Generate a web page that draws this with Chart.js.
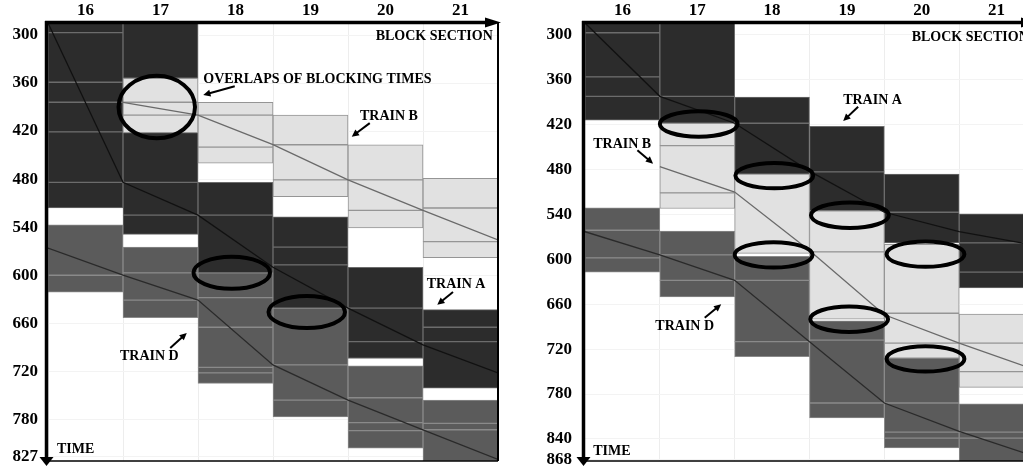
<!DOCTYPE html>
<html>
<head>
<meta charset="utf-8">
<script src="https://cdn.jsdelivr.net/npm/chart.js@4"></script>
<style>
  html, body { margin: 0; padding: 0; background: #fff; overflow: hidden; }
  #left { position: absolute; left: 0; top: 0; }
  #right { position: absolute; left: 510px; top: 0; }
</style>
</head>
<body>
<canvas id="left" width="510" height="467"></canvas>
<canvas id="right" width="540" height="467"></canvas>
<script>
const sections = [16, 17, 18, 19, 20, 21]
const leftTimeTicks = [300, 360, 420, 480, 540, 600, 660, 720, 780, 827]
const rightTimeTicks = [300, 360, 420, 480, 540, 600, 660, 720, 780, 840, 868]

// blocking time segments per train: [section, start, end]
const leftTrainA = [
  [16, 285, 297], [16, 297, 359], [16, 359, 384], [16, 384, 421], [16, 421, 484], [16, 484, 516],
  [17, 285, 354], [17, 422, 484], [17, 484, 525], [17, 525, 549],
  [18, 484, 525], [18, 525, 597],
  [19, 527, 565], [19, 565, 587], [19, 587, 641],
  [20, 590, 641], [20, 641, 683], [20, 683, 704],
  [21, 643, 665], [21, 665, 683], [21, 683, 741]
]
const leftTrainB = [
  [17, 354, 384], [17, 384, 400], [17, 400, 422],
  [18, 384, 400], [18, 400, 440], [18, 440, 460],
  [19, 400, 437], [19, 437, 481], [19, 481, 502],
  [20, 437, 481], [20, 481, 519], [20, 519, 541],
  [21, 479, 516], [21, 516, 558], [21, 558, 578]
]
const leftTrainD = [
  [16, 537, 600], [16, 600, 621],
  [17, 565, 597], [17, 597, 631], [17, 631, 653],
  [18, 597, 628], [18, 628, 665], [18, 665, 715], [18, 715, 722], [18, 722, 735],
  [19, 641, 712], [19, 712, 756], [19, 756, 777],
  [20, 713, 753], [20, 753, 784], [20, 784, 794], [20, 794, 816],
  [21, 756, 785], [21, 785, 793], [21, 793, 832]
]

const rightTrainA = [
  [16, 284, 297], [16, 297, 356], [16, 356, 382], [16, 382, 414],
  [17, 284, 382], [17, 382, 418],
  [18, 383, 418], [18, 418, 486],
  [19, 422, 483], [19, 483, 535],
  [20, 486, 537], [20, 537, 578],
  [21, 539, 578], [21, 578, 617], [21, 617, 638]
]
const rightTrainB = [
  [17, 418, 448], [17, 448, 511], [17, 511, 532],
  [18, 486, 592],
  [19, 535, 590], [19, 590, 680],
  [20, 580, 672], [20, 672, 712], [20, 712, 732],
  [21, 673, 712], [21, 712, 750], [21, 750, 771]
]
const rightTrainD = [
  [16, 531, 561], [16, 561, 598], [16, 598, 617],
  [17, 562, 594], [17, 594, 628], [17, 628, 650],
  [18, 596, 628], [18, 628, 710], [18, 710, 730],
  [19, 682, 708], [19, 708, 792], [19, 792, 812],
  [20, 732, 792], [20, 792, 831], [20, 831, 839], [20, 839, 852],
  [21, 793, 831], [21, 831, 839], [21, 839, 870]
]

// train paths: [position along line, time]
const leftPathA = [[15.5, 285], [16.5, 484], [17.5, 525], [18.5, 590], [19.5, 641], [20.5, 687], [21.5, 722]]
const leftPathB = [[16.5, 384], [17.5, 400], [18.5, 437], [19.5, 481], [20.5, 519], [21.5, 556]]
const leftPathD = [[15.5, 566], [16.5, 600], [17.5, 631], [18.5, 712], [19.5, 756], [20.5, 793], [21.5, 830]]
const rightPathA = [[15.5, 284], [16.5, 382], [17.5, 418], [18.5, 482], [19.5, 537], [20.5, 563], [21.5, 581]]
const rightPathB = [[16.5, 476], [17.5, 510], [18.5, 588], [19.5, 674], [20.5, 712], [21.5, 747]]
const rightPathD = [[15.5, 563], [16.5, 594], [17.5, 628], [18.5, 710], [19.5, 792], [20.5, 830], [21.5, 863]]

// overlap rings: [section, time, radius in sections, radius in time]
const leftRings = [[16.95, 390, 0.51, 39], [17.95, 597, 0.51, 20], [18.95, 646, 0.51, 20]]
const rightRings = [
  [17.02, 419, 0.52, 17], [18.03, 488, 0.52, 17], [19.04, 541, 0.52, 17], [18.02, 594, 0.52, 17],
  [20.05, 593, 0.52, 17], [19.03, 680, 0.52, 17], [20.05, 733, 0.52, 17]
]

const leftNotes = [
  { text: 'BLOCK SECTION', x: 21.43, t: 302, align: 'right' },
  { text: 'OVERLAPS OF BLOCKING TIMES', x: 17.57, t: 356 },
  { text: 'TRAIN B', x: 19.66, t: 402 },
  { text: 'TRAIN A', x: 20.55, t: 612 },
  { text: 'TRAIN D', x: 16.46, t: 701 },
  { text: 'TIME', x: 15.62, t: 818 }
]
const leftArrows = [[17.99, 364, 17.57, 375], [19.79, 410, 19.55, 427], [20.9, 621, 20.69, 637], [17.13, 691, 17.35, 672]]

const rightNotes = [
  { text: 'BLOCK SECTION', x: 21.43, t: 303, align: 'right' },
  { text: 'TRAIN A', x: 18.95, t: 387 },
  { text: 'TRAIN B', x: 15.61, t: 446 },
  { text: 'TRAIN D', x: 16.44, t: 690 },
  { text: 'TIME', x: 15.61, t: 857 }
]
const rightArrows = [[19.15, 396, 18.95, 415], [16.2, 454, 16.41, 472], [17.1, 678, 17.32, 660]]

const serif = '"Liberation Serif", "Times New Roman", serif'

const barSet = (segs, fill, edge) => ({
  type: 'bar',
  data: segs.map(s => ({ x: s[0], y: [s[1], s[2]] })),
  backgroundColor: fill,
  borderColor: edge,
  borderWidth: 1,
  borderSkipped: false,
  grouped: false,
  barPercentage: 1,
  categoryPercentage: 1
})

const pathSet = (pts, color, width) => ({
  type: 'line',
  data: pts.map(p => ({ x: p[0], y: p[1] })),
  borderColor: color,
  borderWidth: width,
  pointRadius: 0,
  fill: false,
  tension: 0
})

const drawArrow = (ctx, x1, y1, x2, y2) => {
  const ang = Math.atan2(y2 - y1, x2 - x1)
  const head = 8
  ctx.lineWidth = 2
  ctx.beginPath()
  ctx.moveTo(x1, y1)
  ctx.lineTo(x2 - Math.cos(ang) * head * 0.7, y2 - Math.sin(ang) * head * 0.7)
  ctx.stroke()
  ctx.beginPath()
  ctx.moveTo(x2, y2)
  ctx.lineTo(x2 - head * Math.cos(ang - 0.45), y2 - head * Math.sin(ang - 0.45))
  ctx.lineTo(x2 - head * Math.cos(ang + 0.45), y2 - head * Math.sin(ang + 0.45))
  ctx.closePath()
  ctx.fill()
}

// rings, labels, arrows and the arrowed axes
const makeDecor = (rings, notes, arrows) => ({
  id: 'decor',
  afterDatasetsDraw(chart) {
    const { ctx, scales: { x, y } } = chart
    const px = v => x.getPixelForValue(v)
    const py = v => y.getPixelForValue(v)
    ctx.save()
    ctx.strokeStyle = '#000'
    ctx.fillStyle = '#000'
    ctx.lineWidth = 4
    rings.forEach(r => {
      ctx.beginPath()
      ctx.ellipse(px(r[0]), py(r[1]), Math.abs(px(r[0] + r[2]) - px(r[0])), Math.abs(py(r[1] + r[3]) - py(r[1])), 0, 0, Math.PI * 2)
      ctx.stroke()
    })
    ctx.font = 'bold 14px ' + serif
    ctx.textBaseline = 'middle'
    notes.forEach(n => {
      ctx.textAlign = n.align || 'left'
      ctx.fillText(n.text, px(n.x), py(n.t))
    })
    arrows.forEach(a => drawArrow(ctx, px(a[0]), py(a[1]), px(a[2]), py(a[3])))
    ctx.restore()
  },
  afterDraw(chart) {
    const { ctx, chartArea: a } = chart
    ctx.save()
    ctx.strokeStyle = '#000'
    ctx.fillStyle = '#000'
    // right and bottom frame
    ctx.lineWidth = 2
    ctx.beginPath()
    ctx.moveTo(a.right, a.top)
    ctx.lineTo(a.right, a.bottom)
    ctx.stroke()
    ctx.lineWidth = 1.5
    ctx.beginPath()
    ctx.moveTo(a.left, a.bottom)
    ctx.lineTo(a.right, a.bottom)
    ctx.stroke()
    // top axis with arrow
    ctx.lineWidth = 3.5
    ctx.beginPath()
    ctx.moveTo(a.left - 3, a.top - 0.5)
    ctx.lineTo(a.right - 8, a.top - 0.5)
    ctx.stroke()
    ctx.beginPath()
    ctx.moveTo(a.right + 3, a.top - 0.5)
    ctx.lineTo(a.right - 13, a.top - 5.5)
    ctx.lineTo(a.right - 13, a.top + 4.5)
    ctx.closePath()
    ctx.fill()
    // left axis with arrow
    ctx.beginPath()
    ctx.moveTo(a.left - 1.5, a.top - 2)
    ctx.lineTo(a.left - 1.5, a.bottom - 2)
    ctx.stroke()
    ctx.beginPath()
    ctx.moveTo(a.left - 1.5, a.bottom + 5)
    ctx.lineTo(a.left - 8.5, a.bottom - 4)
    ctx.lineTo(a.left + 5.5, a.bottom - 4)
    ctx.closePath()
    ctx.fill()
    ctx.restore()
  }
})

const makeChart = (id, p) => new Chart(document.getElementById(id), {
  type: 'bar',
  data: {
    datasets: [
      pathSet(p.pathA, '#111111', 1.3),
      pathSet(p.pathB, '#6a6a6a', 1.3),
      pathSet(p.pathD, '#2a2a2a', 1.3),
      barSet(p.trainD, '#5b5b5b', '#8a8a8a'),
      barSet(p.trainB, '#e1e1e1', '#959595'),
      barSet(p.trainA, '#2c2c2c', '#6c6c6c')
    ]
  },
  options: {
    responsive: false,
    devicePixelRatio: 1,
    animation: false,
    events: [],
    layout: { padding: { left: 0, top: 0, right: p.padRight, bottom: 6 } },
    plugins: { legend: { display: false }, tooltip: { enabled: false } },
    scales: {
      x: {
        type: 'linear',
        position: 'top',
        min: 15.5,
        max: 21.5,
        offset: false,
        afterBuildTicks: s => { s.ticks = sections.map(v => ({ value: v })) },
        afterFit: s => { s.height = 23 },
        ticks: {
          autoSkip: false,
          maxRotation: 0,
          padding: 2,
          color: '#000',
          font: { family: serif, size: 17, weight: 'bold' },
          callback: v => String(v)
        },
        grid: { offset: true, color: '#ededed', drawTicks: false },
        border: { display: false }
      },
      y: {
        type: 'linear',
        reverse: true,
        min: p.tMin,
        max: p.tMax,
        afterBuildTicks: s => { s.ticks = p.ticks.map(v => ({ value: v })) },
        // fixed axis width; no extra room for the end labels
        afterFit: s => { s.width = p.axisWidth; s.paddingTop = 0; s.paddingBottom = 0 },
        ticks: {
          autoSkip: false,
          padding: p.tickPad,
          color: '#000',
          font: { family: serif, size: 17, weight: 'bold' },
          callback: v => String(v)
        },
        grid: { color: '#f3f3f3', drawTicks: false },
        border: { display: false }
      }
    }
  },
  plugins: [makeDecor(p.rings, p.notes, p.arrows)]
})

makeChart('left', {
  trainA: leftTrainA, trainB: leftTrainB, trainD: leftTrainD,
  pathA: leftPathA, pathB: leftPathB, pathD: leftPathD,
  rings: leftRings, notes: leftNotes, arrows: leftArrows,
  ticks: leftTimeTicks, tMin: 285, tMax: 832,
  axisWidth: 48, tickPad: 10, padRight: 12
})

makeChart('right', {
  trainA: rightTrainA, trainB: rightTrainB, trainD: rightTrainD,
  pathA: rightPathA, pathB: rightPathB, pathD: rightPathD,
  rings: rightRings, notes: rightNotes, arrows: rightArrows,
  ticks: rightTimeTicks, tMin: 284, tMax: 869.5,
  axisWidth: 75, tickPad: 13, padRight: 16
})
</script>
</body>
</html>
